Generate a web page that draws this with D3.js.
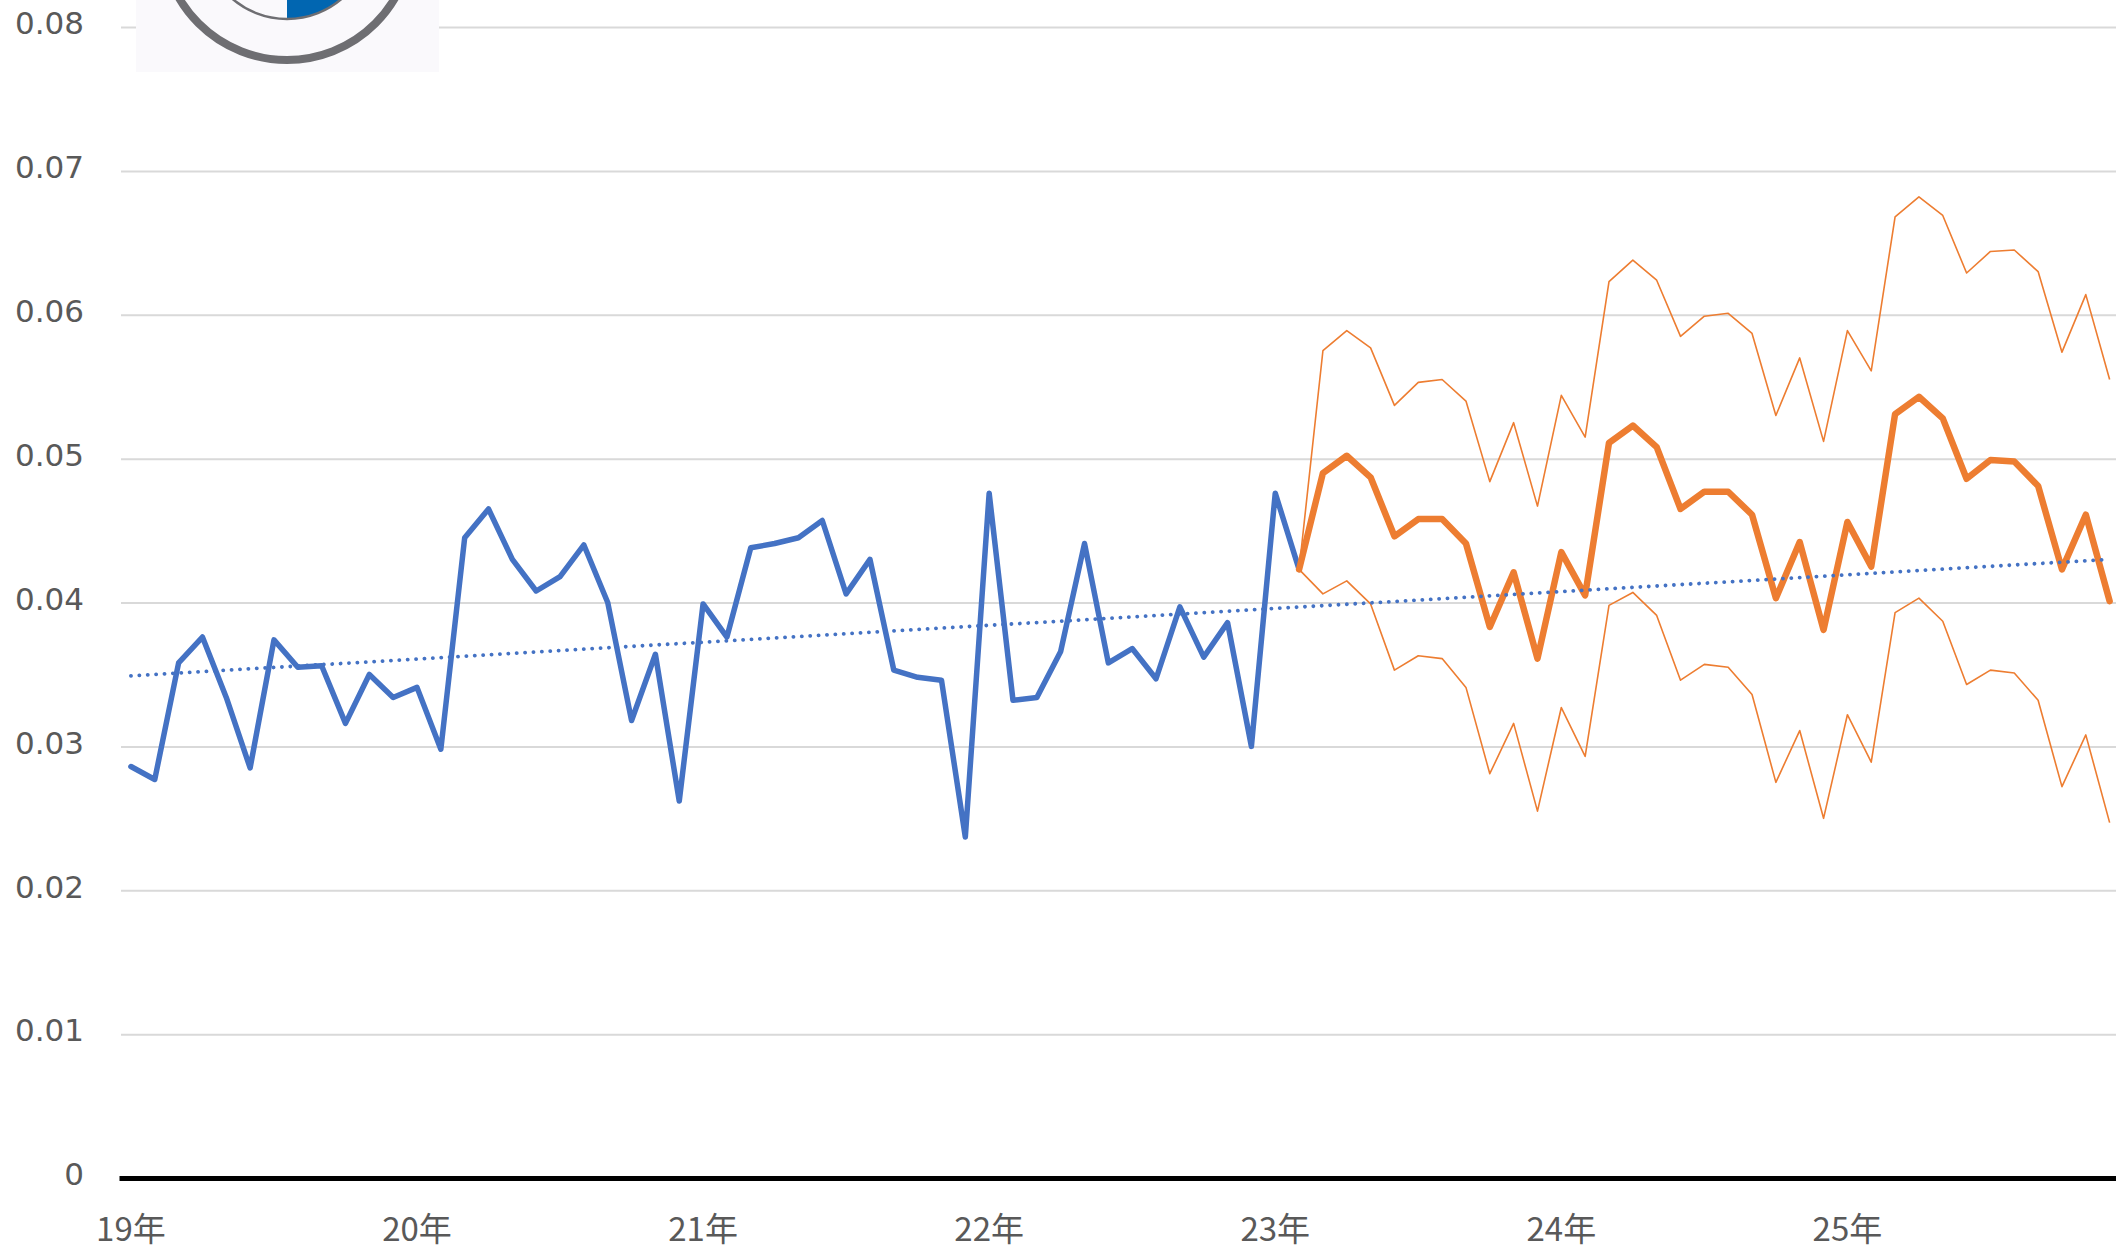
<!DOCTYPE html>
<html>
<head>
<meta charset="utf-8">
<script src="https://cdn.jsdelivr.net/npm/d3@7"></script>
<style>
  html, body { margin: 0; padding: 0; background: #fff; }
  svg { display: block; }
</style>
</head>
<body>
<svg id="chart"></svg>
<script>
// years shown on the axis, one category per month
const years = ['19', '20', '21', '22', '23', '24', '25'];
const yearLabels = ['19年', '20年', '21年', '22年', '23年', '24年', '25年'];
const yTicks = [0, 0.01, 0.02, 0.03, 0.04, 0.05, 0.06, 0.07, 0.08];

// actual values, 2019-01 .. 2023-02
const actual = [
    0.0286, 0.0277, 0.0358, 0.0376, 0.0334, 0.0285, 0.0374, 0.0355, 0.0356, 0.0316, 0.0350, 0.0334,
    0.0341, 0.0298, 0.0445, 0.0465, 0.0430, 0.0408, 0.0418, 0.0440, 0.0400, 0.0318, 0.0364, 0.0262,
    0.0399, 0.0376, 0.0438, 0.0441, 0.0445, 0.0457, 0.0406, 0.0430, 0.0353, 0.0348, 0.0346, 0.0237,
    0.0476, 0.0332, 0.0334, 0.0366, 0.0441, 0.0358, 0.0368, 0.0347, 0.0397, 0.0362, 0.0386, 0.0300,
    0.0476, 0.0423
];

// forecast, 2023-02 .. 2025-12
const forecastStart = 49;
const forecast = [
    0.0423, 0.0490, 0.0502, 0.0487, 0.0446, 0.0458, 0.0458, 0.0441, 0.0383, 0.0421, 0.0361,
    0.0435, 0.0405, 0.0511, 0.0523, 0.0508, 0.0465, 0.0477, 0.0477, 0.0461, 0.0403, 0.0442, 0.0381,
    0.0456, 0.0425, 0.0531, 0.0543, 0.0528, 0.0486, 0.0499, 0.0498, 0.0481, 0.0423, 0.0461, 0.0401
];
const upper = [
    0.0423, 0.0575, 0.0589, 0.0577, 0.0537, 0.0553, 0.0555, 0.0540, 0.0484, 0.0525, 0.0467,
    0.0544, 0.0515, 0.0623, 0.0638, 0.0624, 0.0585, 0.0599, 0.0601, 0.0587, 0.0530, 0.0570, 0.0512,
    0.0589, 0.0561, 0.0668, 0.0682, 0.0669, 0.0629, 0.0644, 0.0645, 0.0630, 0.0574, 0.0614, 0.0555
];
const lower = [
    0.0423, 0.0406, 0.0415, 0.0399, 0.0353, 0.0363, 0.0361, 0.0341, 0.0281, 0.0316, 0.0255,
    0.0327, 0.0293, 0.0398, 0.0407, 0.0391, 0.0346, 0.0357, 0.0355, 0.0336, 0.0275, 0.0311, 0.0250,
    0.0322, 0.0289, 0.0393, 0.0403, 0.0387, 0.0343, 0.0353, 0.0351, 0.0332, 0.0272, 0.0308, 0.0247
];

// linear trend of the actual series, read at first and last month
const trend = [0.0349, 0.0430];

const width = 2116;
const height = 1250;

const categories = [];
years.forEach(y => {
    for (let m = 1; m <= 12; m++) categories.push(y + '-' + m);
});

const svg = d3.select('#chart').attr('width', width).attr('height', height);

const x = d3.scaleBand().domain(categories).range([119, 119 + 84 * 23.84]);
const y = d3.scaleLinear().domain([0, 0.08]).range([1178, 27]);
const cx = i => x(categories[i]) + x.bandwidth() / 2;

// gridlines and y labels
const yAxis = svg.append('g')
    .attr('transform', 'translate(121,0)')
    .call(d3.axisLeft(y)
        .tickValues(yTicks)
        .tickSize(-(width - 121))
        .tickPadding(37)
        .tickFormat(d => d === 0 ? '0' : d3.format('.2f')(d)));
yAxis.select('.domain').remove();
yAxis.selectAll('.tick line')
    .attr('stroke', '#d9d9d9')
    .attr('stroke-width', 2)
    .attr('opacity', d => d === 0 ? 0 : 1);
yAxis.selectAll('.tick text')
    .attr('fill', '#595959')
    .attr('font-family', '"DejaVu Sans", Verdana, sans-serif')
    .attr('font-size', 31)
    .attr('dy', '0.22em');

// x axis
const xAxis = svg.append('g')
    .attr('transform', `translate(0,${y(0)})`)
    .call(d3.axisBottom(x)
        .tickValues(categories.filter((c, i) => i % 12 === 0))
        .tickSize(0)
        .tickSizeOuter(0)
        .tickPadding(63)
        .tickFormat(c => yearLabels[years.indexOf(c.split('-')[0])]));
xAxis.select('.domain')
    .attr('stroke', '#000')
    .attr('stroke-width', 5);
xAxis.selectAll('.tick text')
    .attr('fill', '#595959')
    .attr('font-family', '"Noto Sans CJK JP", sans-serif')
    .attr('font-size', 33)
    .attr('dy', '0');

const line = d3.line()
    .x(d => cx(d.i))
    .y(d => y(d.v));

const toPoints = (arr, start) => arr.map((v, k) => ({ i: start + k, v: v }));

// thin forecast bounds
[upper, lower].forEach(arr => {
    svg.append('path')
        .datum(toPoints(arr, forecastStart))
        .attr('d', line)
        .attr('fill', 'none')
        .attr('stroke', '#ED7D31')
        .attr('stroke-width', 1.6)
        .attr('stroke-linejoin', 'round');
});

// actual
svg.append('path')
    .datum(toPoints(actual, 0))
    .attr('d', line)
    .attr('fill', 'none')
    .attr('stroke', '#4472C4')
    .attr('stroke-width', 5.5)
    .attr('stroke-linejoin', 'round')
    .attr('stroke-linecap', 'round');

// forecast
svg.append('path')
    .datum(toPoints(forecast, forecastStart))
    .attr('d', line)
    .attr('fill', 'none')
    .attr('stroke', '#ED7D31')
    .attr('stroke-width', 6.5)
    .attr('stroke-linejoin', 'round')
    .attr('stroke-linecap', 'round');

// trend line
svg.append('path')
    .datum([{ i: 0, v: trend[0] }, { i: categories.length - 1, v: trend[1] }])
    .attr('d', line)
    .attr('fill', 'none')
    .attr('stroke', '#4472C4')
    .attr('stroke-width', 3.8)
    .attr('stroke-linecap', 'round')
    .attr('stroke-dasharray', '0.1 8.3');

// logo in the top left corner
const logo = svg.append('g');
logo.append('clipPath').attr('id', 'logo-clip')
    .append('rect').attr('x', 136).attr('y', 0).attr('width', 303).attr('height', 72);
const lg = logo.append('g').attr('clip-path', 'url(#logo-clip)');
lg.append('rect')
    .attr('x', 136).attr('y', 0).attr('width', 303).attr('height', 72)
    .attr('fill', '#faf9fc');
const lcx = 287, lcy = -65;
lg.append('path')
    .attr('d', `M${lcx},${lcy} L${lcx},${lcy + 84} A84,84 0 0 0 ${lcx + 84},${lcy} Z`)
    .attr('fill', '#0166b1');
lg.append('circle')
    .attr('cx', lcx).attr('cy', lcy).attr('r', 84)
    .attr('fill', 'none').attr('stroke', '#6e6e72').attr('stroke-width', 2.5);
lg.append('circle')
    .attr('cx', lcx).attr('cy', lcy).attr('r', 125)
    .attr('fill', 'none').attr('stroke', '#6e6e72').attr('stroke-width', 8);
</script>
</body>
</html>
